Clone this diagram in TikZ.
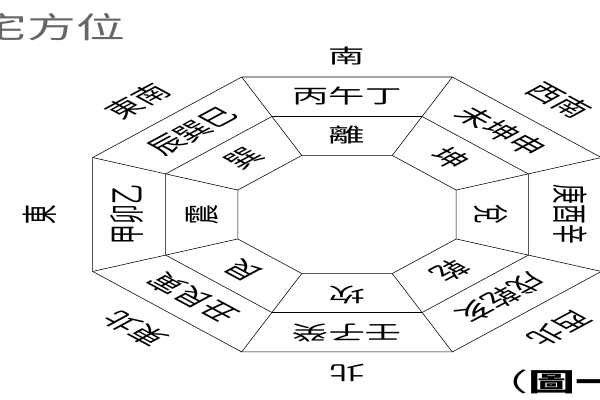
\documentclass[tikz,border=0pt]{standalone}
\usepackage{fontspec}
\newfontfamily\cjk{Noto Sans CJK TC}
\begin{document}
\begin{tikzpicture}[x=0.025cm,y=0.025cm]
\tikzstyle{every node}+=[inner sep=0pt]
\tikzstyle{gua}=[font=\cjk\fontsize{14}{14}\selectfont, transform shape]
\useasboundingbox (0,0) rectangle (600,-400);
\node [font=\cjk\fontsize{21}{21}\selectfont, text=black!60, xscale=1.65] (title) at (52,-27) {宅方位};
\node [font=\cjk\fontsize{18}{18}\selectfont, xscale=1.85, anchor=west] (fig) at (481,-381.5) {（\bfseries 圖一};
\begin{scope}[shift={(347,-214.5)}, xscale=1.85]
% octagons: outer, middle, inner
\draw [black] (22.5:148.8) -- (67.5:148.8) -- (112.5:148.8) -- (157.5:148.8) -- (202.5:148.8) -- (247.5:148.8) -- (292.5:148.8) -- (337.5:148.8) -- cycle;
\draw [black] (22.5:106.1) -- (67.5:106.1) -- (112.5:106.1) -- (157.5:106.1) -- (202.5:106.1) -- (247.5:106.1) -- (292.5:106.1) -- (337.5:106.1) -- cycle;
\draw [black] (22.5:63.9) -- (67.5:63.9) -- (112.5:63.9) -- (157.5:63.9) -- (202.5:63.9) -- (247.5:63.9) -- (292.5:63.9) -- (337.5:63.9) -- cycle;
\draw [black] (22.5:63.9) -- (22.5:148.8);
\draw [black] (67.5:63.9) -- (67.5:148.8);
\draw [black] (112.5:63.9) -- (112.5:148.8);
\draw [black] (157.5:63.9) -- (157.5:148.8);
\draw [black] (202.5:63.9) -- (202.5:148.8);
\draw [black] (247.5:63.9) -- (247.5:148.8);
\draw [black] (292.5:63.9) -- (292.5:148.8);
\draw [black] (337.5:63.9) -- (337.5:148.8);
% directions
\node [gua, rotate=0] (s) at (90:158) {南};
\node [gua, rotate=-45] (sw) at (45:162) {西南};
\node [gua, rotate=-135] (nw) at (-45:162) {西北};
\node [gua, rotate=180] (n) at (-90:158) {北};
\node [gua, rotate=135] (ne) at (-135:162) {東北};
\node [gua, rotate=90] (e) at (180:166) {東};
\node [gua, rotate=45] (se) at (135:160) {東南};
% mountains
\node [gua, rotate=0] (s2) at (90:118) {丙午丁};
\node [gua, rotate=-45] (sw2) at (45:118) {未坤申};
\node [gua, rotate=-90] (w2) at (0:121) {庚酉辛};
\node [gua, rotate=-135] (nw2) at (-45:118) {戌乾亥};
\node [gua, rotate=180] (n2) at (-90:118) {壬子癸};
\node [gua, rotate=135] (ne2) at (-135:118) {丑艮寅};
\node [gua, rotate=90] (e2) at (180:119) {甲卯乙};
\node [gua, rotate=45] (se2) at (135:118) {辰巽巳};
% trigrams
\node [gua, rotate=0] (s1) at (90:80) {離};
\node [gua, rotate=-45] (sw1) at (45:79) {坤};
\node [gua, rotate=-90] (w1) at (0:78) {兌};
\node [gua, rotate=-135] (nw1) at (-45:79) {乾};
\node [gua, rotate=180] (n1) at (-90:80) {坎};
\node [gua, rotate=135] (ne1) at (-135:79) {艮};
\node [gua, rotate=90] (e1) at (180:78) {震};
\node [gua, rotate=45] (se1) at (135:79) {巽};
\end{scope}
\end{tikzpicture}
\end{document}
